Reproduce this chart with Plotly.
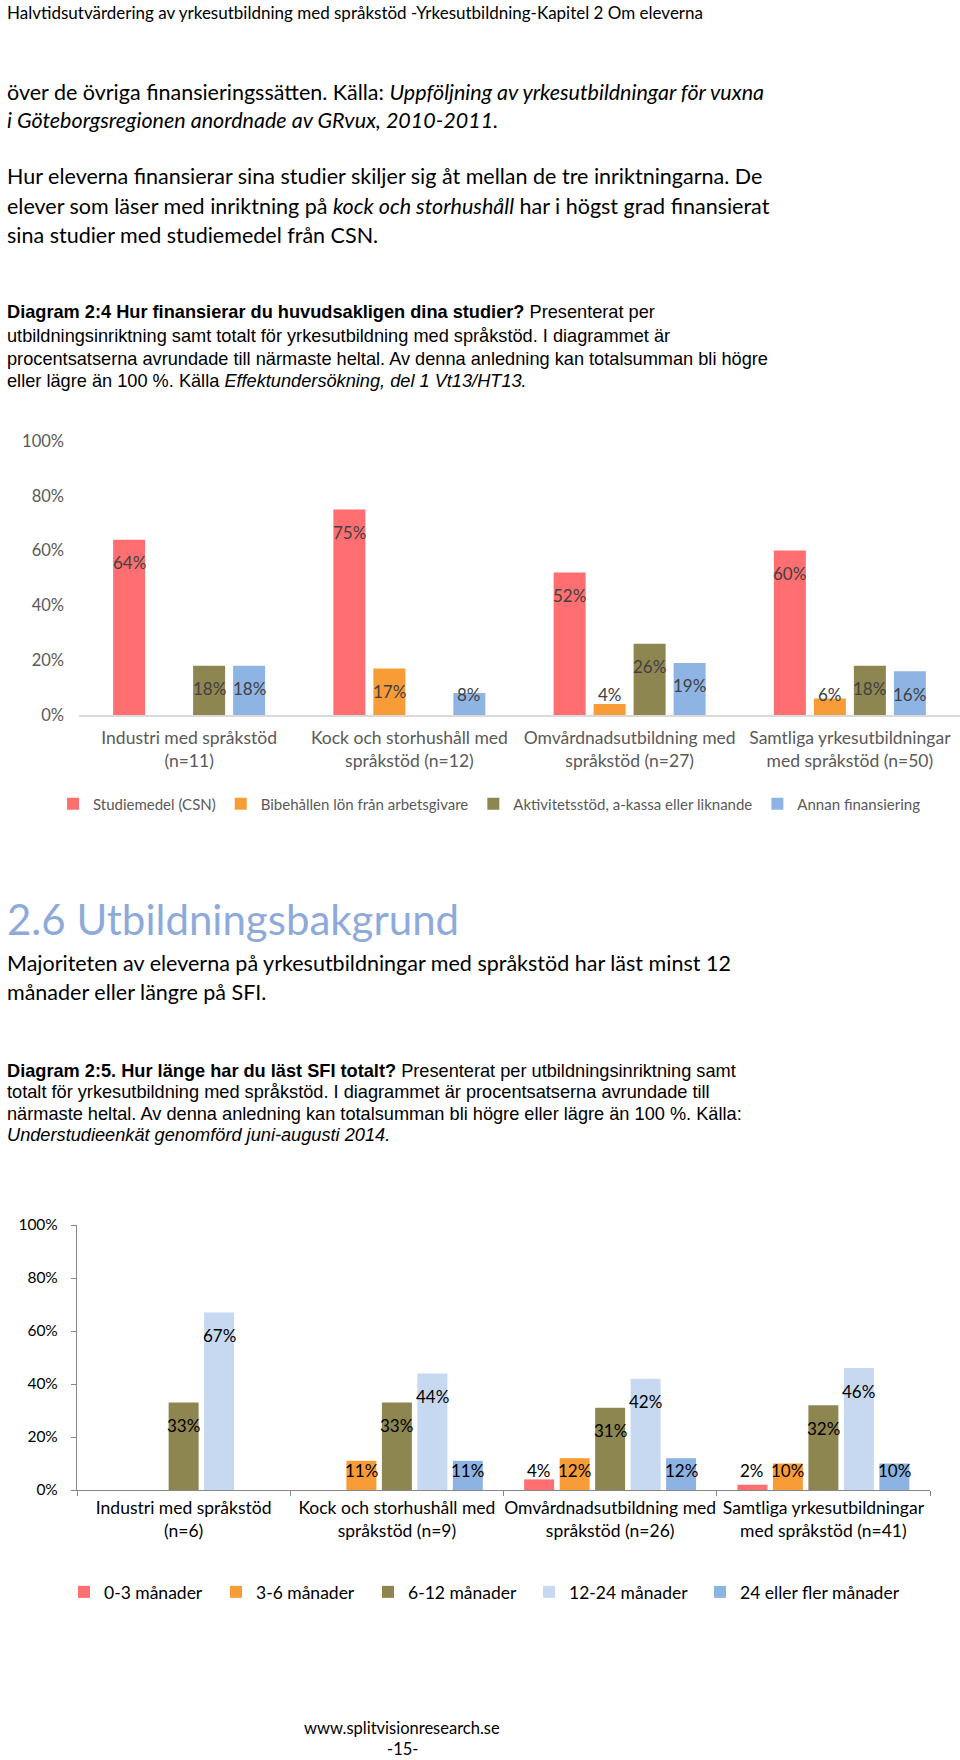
import plotly.graph_objects as go

W, H = 960, 1760
OFF = 0  # page body margin is removed in the written page (see write_html below)

# ---------------- data: Diagram 2:4 ----------------
cats1 = ["Industri med språkstöd<br>(n=11)",
         "Kock och storhushåll med<br>språkstöd (n=12)",
         "Omvårdnadsutbildning med<br>språkstöd (n=27)",
         "Samtliga yrkesutbildningar<br>med språkstöd (n=50)"]
names1 = ["Studiemedel (CSN)", "Bibehållen lön från arbetsgivare",
          "Aktivitetsstöd, a-kassa eller liknande", "Annan finansiering"]
studiemedel = [64, 75, 52, 60]
bibehallen_lon = [None, 17, 4, 6]
aktivitetsstod = [18, None, 26, 18]
annan_finansiering = [18, 8, 19, 16]
colors1 = ["#FF6F72", "#F89C38", "#8E8651", "#8EB4E3"]

# ---------------- data: Diagram 2:5 ----------------
cats2 = ["Industri med språkstöd<br>(n=6)",
         "Kock och storhushåll med<br>språkstöd (n=9)",
         "Omvårdnadsutbildning med<br>språkstöd (n=26)",
         "Samtliga yrkesutbildningar<br>med språkstöd (n=41)"]
names2 = ["0-3 månader", "3-6 månader", "6-12 månader", "12-24 månader", "24 eller fler månader"]
m0_3 = [None, None, 4, 2]
m3_6 = [None, 11, 12, 10]
m6_12 = [33, 33, 31, 32]
m12_24 = [67, 44, 42, 46]
m24_plus = [None, 11, 12, 10]
colors2 = ["#FF6F72", "#F89C38", "#8E8651", "#C6D9F1", "#8DB3E2"]

tick_pct = [0, 20, 40, 60, 80, 100]
tick_txt = [f"{v}%" for v in tick_pct]

series1 = [studiemedel, bibehallen_lon, aktivitetsstod, annan_finansiering]
series2 = [m0_3, m3_6, m6_12, m12_24, m24_plus]

FONT = "Lato, Calibri, Carlito, sans-serif"
CAP = "Liberation Sans, Arial, sans-serif"

# plot areas in page pixels
p1 = dict(x0=79, x1=960, y0=441, y1=715)
p2 = dict(x0=77, x1=930, y0=1225, y1=1490)


def px_x(x):
    return (x - OFF) / W


def px_y(y):
    return 1 - (y - OFF) / H


def dom_x(p):
    return [px_x(p["x0"]), min(1.0, px_x(p["x1"]))]


def dom_y(p):
    return [px_y(p["y1"]), px_y(p["y0"])]


fig = go.Figure()
annotations = []


def add_group(series, names, colors, cats, bargap, groupgap, xa, ya, legend, p,
              lblcolor, lwidths=None):
    n = len(series)
    grp = 1 - bargap
    slot = grp / n
    bw = slot * (1 - groupgap)
    px_per = (p["y1"] - p["y0"]) / 100.0
    for j, (vals, nm, col) in enumerate(zip(series, names, colors)):
        off = -grp / 2 + j * slot + (slot - bw) / 2
        kw = {}
        if lwidths:
            kw["legendwidth"] = lwidths[j]
        fig.add_trace(go.Bar(
            x=cats, y=vals, name=nm, marker=dict(color=col, line=dict(width=0)),
            width=bw, offset=off, xaxis=xa, yaxis=ya, legend=legend,
            hoverinfo="skip", **kw))
        for i, v in enumerate(vals):
            if v is None:
                continue
            if v * px_per - 23 >= 20:
                yv, ys = v, -23
            else:
                yv, ys = 0, 20
            annotations.append(dict(
                x=i + off + bw / 2, y=yv, xref=xa, yref=ya, yshift=ys,
                text=f"{v}%", showarrow=False, xanchor="center", yanchor="middle",
                font=dict(family=FONT, size=17, color=lblcolor)))


add_group(series1, names1, colors1, cats1, 0.2736, 0.2, "x", "y", "legend", p1, "#404040")
add_group(series2, names2, colors2, cats2, 0.168, 0.155, "x2", "y2", "legend2", p2, "#000000",
          lwidths=[107, 107, 116, 126, 160])


def txt(xp, yp, text, size=21.5, family=FONT, color="#000000", anchor="left", pad=1):
    f = dict(family=family, size=size, color=color)
    annotations.append(dict(x=px_x(xp), y=px_y(yp), xref="paper", yref="paper",
                            text=text, showarrow=False, xanchor=anchor, yanchor="middle",
                            align=anchor, font=f, borderpad=pad))


CS = 18.2
txt(5, 12, "Halvtidsutvärdering av yrkesutbildning med språkstöd -Yrkesutbildning-Kapitel 2 Om eleverna", size=17)
txt(5, 92, "över de övriga finansieringssätten. Källa: <i>Uppföljning av yrkesutbildningar för vuxna</i>")
txt(5, 120, "<i>i Göteborgsregionen anordnade av GRvux, 2010-2011.</i>")
txt(5, 176, "Hur eleverna finansierar sina studier skiljer sig åt mellan de tre inriktningarna. De")
txt(5, 206, "elever som läser med inriktning på <i>kock och storhushåll</i> har i högst grad finansierat")
txt(5, 235, "sina studier med studiemedel från CSN.")

txt(5, 312, "<b>Diagram 2:4 Hur finansierar du huvudsakligen dina studier?</b> Presenterat per", size=CS, family=CAP)
txt(5, 336, "utbildningsinriktning samt totalt för yrkesutbildning med språkstöd. I diagrammet är", size=CS, family=CAP)
txt(5, 359, "procentsatserna avrundade till närmaste heltal. Av denna anledning kan totalsumman bli högre", size=CS, family=CAP)
txt(5, 381, "eller lägre än 100 %. Källa <i>Effektundersökning, del 1 Vt13/HT13.</i>", size=CS, family=CAP)

txt(5, 919, "2.6 Utbildningsbakgrund", size=42, color="#8EAADB")
txt(5, 963, "Majoriteten av eleverna på yrkesutbildningar med språkstöd har läst minst 12")
txt(5, 992, "månader eller längre på SFI.")

txt(5, 1071, "<b>Diagram 2:5. Hur länge har du läst SFI totalt?</b> Presenterat per utbildningsinriktning samt", size=CS, family=CAP)
txt(5, 1092, "totalt för yrkesutbildning med språkstöd. I diagrammet är procentsatserna avrundade till", size=CS, family=CAP)
txt(5, 1114, "närmaste heltal. Av denna anledning kan totalsumman bli högre eller lägre än 100 %. Källa:", size=CS, family=CAP)
txt(5, 1135, "<i>Understudieenkät genomförd juni-augusti 2014.</i>", size=CS, family=CAP)

txt(402, 1728, "www.splitvisionresearch.se", size=16.5, anchor="center", pad=0)
txt(402, 1749, "-15-", size=16.5, anchor="center", pad=0)

fig.update_layout(
    template="none",
    width=W, height=H, margin=dict(l=0, r=0, t=0, b=0, pad=0, autoexpand=False),
    paper_bgcolor="white", plot_bgcolor="white",
    barmode="group", showlegend=True,
    font=dict(family=FONT),
    xaxis=dict(domain=dom_x(p1), anchor="y", type="category", automargin=False,
               showline=True, linecolor="#D9D9D9", linewidth=2, ticks="", tickangle=0,
               showgrid=False, zeroline=False, fixedrange=True,
               tickfont=dict(family=FONT, size=17.5, color="#595959"),
               ticklabelstandoff=6),
    yaxis=dict(domain=dom_y(p1), anchor="x", range=[0, 100], automargin=False,
               tickvals=tick_pct, ticktext=tick_txt, showgrid=False, zeroline=False,
               showline=False, ticks="", fixedrange=True,
               tickfont=dict(family=FONT, size=16.5, color="#595959"),
               ticklabelstandoff=14),
    xaxis2=dict(domain=dom_x(p2), anchor="y2", type="category", automargin=False,
                showline=True, linecolor="#878787", linewidth=1.2, tickangle=0,
                ticks="outside", tickson="boundaries", ticklen=5, tickcolor="#878787",
                showgrid=False, zeroline=False, fixedrange=True,
                tickfont=dict(family=FONT, size=17.5, color="#000000"),
                ticklabelstandoff=2),
    yaxis2=dict(domain=dom_y(p2), anchor="x2", range=[0, 100], automargin=False,
                tickvals=tick_pct, ticktext=tick_txt, showgrid=False, zeroline=False,
                showline=True, linecolor="#878787", linewidth=1.2,
                ticks="outside", ticklen=5, tickcolor="#878787", fixedrange=True,
                tickfont=dict(family=FONT, size=15.5, color="#000000"),
                ticklabelstandoff=10),
    legend=dict(orientation="h", x=px_x(53), xanchor="left", y=px_y(804), yanchor="middle",
                font=dict(family=FONT, size=15, color="#595959"), bgcolor="rgba(0,0,0,0)",
                borderwidth=0, traceorder="normal"),
    legend2=dict(orientation="h", x=px_x(64), xanchor="left", y=px_y(1592), yanchor="middle",
                 font=dict(family=FONT, size=17.5, color="#000000"), bgcolor="rgba(0,0,0,0)",
                 borderwidth=0, traceorder="normal"),
    annotations=annotations,
)

fig.write_html("out.html", config={"displayModeBar": False},
               post_script="document.body.style.margin='0';")
